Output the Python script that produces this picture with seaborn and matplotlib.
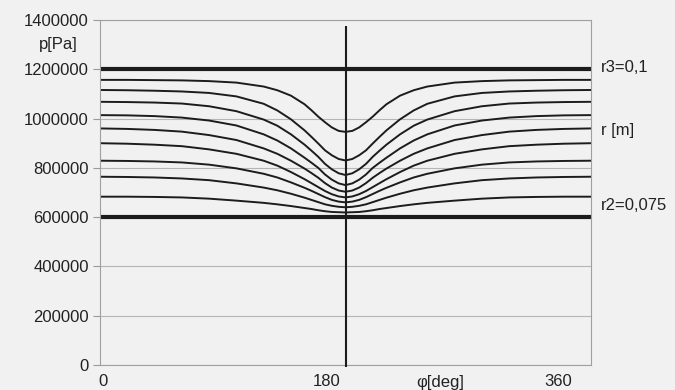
import numpy as np
import pandas as pd
import matplotlib
matplotlib.use("Agg")
import matplotlib.pyplot as plt
import seaborn as sns

# circumferential angle [deg]
ANGLES = [0, 20, 40, 60, 80, 100, 120, 130, 140, 150, 155, 160, 165, 170, 175,
          180, 185, 190, 195, 200, 205, 210, 220, 230, 240, 260, 280, 300, 320, 340, 360]

# pressure [kPa] on intermediate radii, from outer to inner
P_R1 = [1157, 1157, 1156, 1155, 1152, 1146, 1130, 1115, 1093, 1058, 1034, 1008, 985, 964, 950,
        946, 950, 964, 985, 1008, 1034, 1058, 1093, 1115, 1130, 1146, 1152, 1155, 1156, 1157, 1157]
P_R2 = [1116, 1115, 1113, 1110, 1104, 1090, 1060, 1033, 997, 952, 926, 899, 871, 851, 836,
        830, 836, 851, 871, 899, 926, 952, 997, 1033, 1060, 1090, 1104, 1110, 1113, 1115, 1116]
P_R3 = [1068, 1067, 1065, 1061, 1050, 1030, 996, 971, 936, 894, 870, 845, 816, 794, 778,
        771, 778, 794, 816, 845, 870, 894, 936, 971, 996, 1030, 1050, 1061, 1065, 1067, 1068]
P_R4 = [1014, 1013, 1010, 1004, 992, 972, 936, 911, 879, 841, 821, 800, 773, 752, 737,
        730, 737, 752, 773, 800, 821, 841, 879, 911, 936, 972, 992, 1004, 1010, 1013, 1014]
P_R5 = [960, 958, 954, 947, 933, 913, 879, 857, 829, 797, 779, 760, 738, 720, 708,
        703, 708, 720, 738, 760, 779, 797, 829, 857, 879, 913, 933, 947, 954, 958, 960]
P_R6 = [900, 898, 894, 888, 875, 857, 829, 809, 783, 754, 738, 722, 706, 693, 684,
        680, 684, 693, 706, 722, 738, 754, 783, 809, 829, 857, 875, 888, 894, 898, 900]
P_R7 = [829, 828, 826, 822, 813, 798, 776, 761, 741, 719, 707, 694, 681, 670, 663,
        660, 663, 670, 681, 694, 707, 719, 741, 761, 776, 798, 813, 822, 826, 828, 829]
P_R8 = [764, 763, 761, 757, 750, 737, 720, 709, 695, 679, 670, 661, 652, 646, 642,
        640, 642, 646, 652, 661, 670, 679, 695, 709, 720, 737, 750, 757, 761, 763, 764]
P_R9 = [683, 683, 682, 680, 675, 667, 658, 652, 645, 637, 633, 628, 624, 621, 620,
        619, 620, 621, 624, 628, 633, 637, 645, 652, 658, 667, 675, 680, 682, 683, 683]
CURVES = [P_R1, P_R2, P_R3, P_R4, P_R5, P_R6, P_R7, P_R8, P_R9]

# boundary radii: constant pressure [Pa]
EDGE_ANGLES = [0, 360]
P_OUTER = [1200000, 1200000]   # r3 = 0.1
P_INNER = [600000, 600000]     # r2 = 0.075

Y_TICKS = [0, 200000, 400000, 600000, 800000, 1000000, 1200000, 1400000]
X_TICK_TEXT = ["0", "180", "360"]
MID_ANGLE = 180

BG = "#f1f1f1"
INK = "#1c1c1c"

sns.set_theme(style="white")
plt.rcParams["font.family"] = ["Liberation Sans", "DejaVu Sans"]

fig = plt.figure(figsize=(6.75, 3.9), dpi=100, facecolor=BG)
ax = fig.add_axes([100 / 675, 1 - 365 / 390, 491 / 675, 345 / 390])
ax.set_facecolor(BG)

rows = []
for i, vals in enumerate(CURVES):
    for a, v in zip(ANGLES, vals):
        rows.append({"phi": a, "p": v * 1000.0, "curve": i})
df = pd.DataFrame(rows)

edges = pd.DataFrame({
    "phi": EDGE_ANGLES + EDGE_ANGLES,
    "p": P_OUTER + P_INNER,
    "curve": ["outer"] * 2 + ["inner"] * 2,
})

ax.yaxis.grid(True, color="#b5b5b5", lw=0.8)
ax.set_axisbelow(True)

sns.lineplot(data=df, x="phi", y="p", units="curve", estimator=None,
             color=INK, lw=1.4, ax=ax, sort=False, legend=False)
sns.lineplot(data=edges, x="phi", y="p", units="curve", estimator=None,
             color=INK, lw=3.0, ax=ax, sort=False, legend=False)

ax.vlines(MID_ANGLE, -8000, 1375000, color=INK, lw=1.5, clip_on=False, zorder=5)

ax.set_xlim(0, 360)
ax.set_ylim(0, 1400000)
ax.set_yticks(Y_TICKS)
ax.set_yticklabels([str(t) for t in Y_TICKS])
ax.set_xticks([])
ax.set_xlabel("")
ax.set_ylabel("")
ax.tick_params(axis="y", left=True, length=5, width=0.8, color="#9a9a9a",
               labelsize=12, pad=3, labelcolor="#222222")
for s in ax.spines.values():
    s.set_color("#a0a0a0")
    s.set_linewidth(0.8)

txt = dict(fontsize=12, color="#222222")
fig.text(78 / 675, 1 - 45 / 390, "p[Pa]", ha="right", va="center", **txt)

for lbl, xpix in zip(X_TICK_TEXT, [103, 327, 558]):
    fig.text(xpix / 675, 1 - 381 / 390, lbl, ha="center", va="center", **txt)
fig.text(440 / 675, 1 - 382 / 390, "φ[deg]", ha="center", va="center", **txt)

fig.text(601 / 675, 1 - 68 / 390, "r3=0,1", ha="left", va="center", **txt)
fig.text(601 / 675, 1 - 131 / 390, "r [m]", ha="left", va="center", **txt)
fig.text(601 / 675, 1 - 205 / 390, "r2=0,075", ha="left", va="center", **txt)

fig.savefig("out.png", dpi=100, facecolor=BG)
